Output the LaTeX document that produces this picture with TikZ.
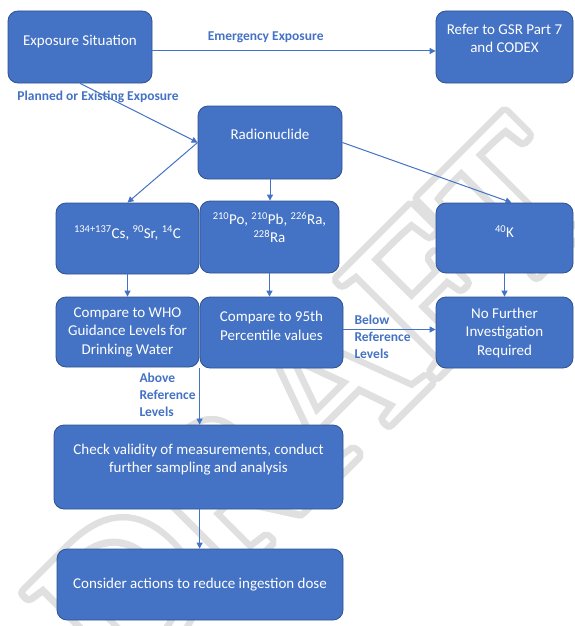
\documentclass[tikz,border=0pt]{standalone}
\usepackage{fontspec}
\usepackage{contour}
\setmainfont{Carlito}
\newfontfamily\wmfont{Liberation Serif}
\usetikzlibrary{arrows.meta,positioning}
\definecolor{boxblue}{HTML}{4472C4}
\definecolor{edgeblue}{HTML}{2F528F}
\definecolor{wmgray}{HTML}{E0E0E0}
\contourlength{6.5pt}
\contournumber{48}

\begin{document}
\begin{tikzpicture}[
  x=1pt, y=-1pt,
  font=\fontsize{15}{18.5}\selectfont,
  box/.style={draw=edgeblue, fill=boxblue, text=white, rounded corners=10pt, align=center, line width=0.8pt},
  lift/.style={text depth=#1},
  note/.style={align=left, text=boxblue, font=\fontsize{13.5}{17}\selectfont\bfseries},
  arrow/.style={-{Triangle[length=6pt,width=6pt]}, draw=boxblue, line width=1pt}
]
\useasboundingbox (0,0) rectangle (574,626);

% watermark
\node[text=white, rotate=45, font=\wmfont\fontsize{210}{210}\selectfont] (draft) at (315,405) {\contour{wmgray}{DRAFT}};

\node[box, minimum width=144pt, minimum height=72pt, lift=13pt] (expo) at (80,47) {Exposure Situation};
\node[box, minimum width=137pt, minimum height=72pt, lift=17pt] (gsr) at (504.5,47) {Refer to GSR Part 7\\and CODEX};
\node[box, minimum width=144pt, minimum height=73pt, lift=17pt] (radio) at (270,142.5) {Radionuclide};

\node[box, minimum width=143pt, minimum height=71pt, lift=13pt] (cs) at (127.5,238.5)
  {\textsuperscript{134+137}Cs, \textsuperscript{90}Sr, \textsuperscript{14}C};
\node[box, minimum width=139pt, minimum height=72pt, lift=19pt] (po) at (269.5,237)
  {\textsuperscript{210}Po, \textsuperscript{210}Pb, \textsuperscript{226}Ra,\\\textsuperscript{228}Ra};
\node[box, minimum width=137pt, minimum height=70pt, lift=13pt] (kk) at (504.5,238) {\textsuperscript{40}K};

\node[box, minimum width=143pt, minimum height=70pt] (who) at (127.5,332)
  {Compare to WHO\\Guidance Levels for\\Drinking Water};
\node[box, minimum width=143pt, minimum height=71pt, lift=13pt] (pct) at (271.5,332.5)
  {Compare to 95th\\Percentile values};
\node[box, minimum width=137pt, minimum height=71pt] (nofurther) at (504.5,332.5)
  {No Further\\Investigation\\Required};

\node[box, minimum width=289pt, minimum height=84pt, lift=17pt] (check) at (198.5,467)
  {Check validity of measurements, conduct\\further sampling and analysis};
\node[box, minimum width=286pt, minimum height=71pt] (consider) at (200,584.5)
  {Consider actions to reduce ingestion dose};

% connectors
\draw[arrow] ([yshift=-4pt]expo.east) -- ([yshift=-4pt]expo.east -| gsr.west)
  node[pos=0.4, above=4.5pt, note] {Emergency Exposure};
\draw[arrow] (expo.south) -- (radio.west);
\node[note] (planned) at (98,97) {Planned or Existing Exposure};

\draw[arrow] (radio.west) -- (cs.north);
\draw[arrow] (radio.south) -- (radio.south |- po.north);
\draw[arrow] (radio.east) -- ([xshift=7pt]kk.north);

\draw[arrow] (cs.south) -- (who.north);
\draw[arrow] (po.south) -- (po.south |- pct.north);
\draw[arrow] (kk.south) -- (nofurther.north);

\draw[arrow] ([yshift=3pt]pct.east) -- ([yshift=3pt]pct.east -| nofurther.west);
\node[note, anchor=west] (below) at (351,337) {Below\\Reference\\Levels};

\draw[arrow] (pct.south west) -- (pct.south west |- check.north);
\node[note, anchor=west] (above) at (136,395) {Above\\Reference\\Levels};

\draw[arrow] (check.south -| pct.south west) -- (consider.north -| pct.south west);

\end{tikzpicture}
\end{document}
